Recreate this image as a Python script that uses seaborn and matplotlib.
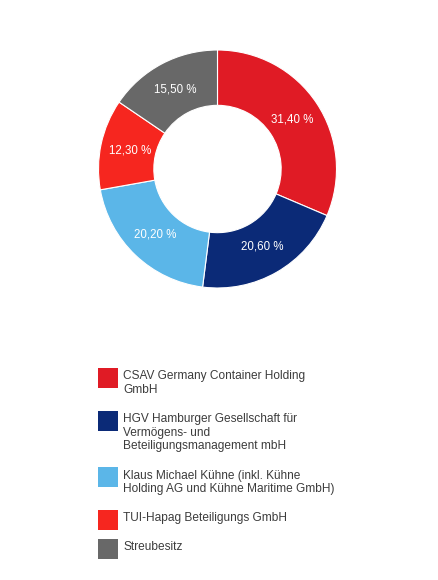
import matplotlib
matplotlib.use("Agg")
import matplotlib.pyplot as plt
import seaborn as sns

# Aktionärsstruktur (Anteile in %)
shareholders = [
    "CSAV Germany Container Holding\nGmbH",
    "HGV Hamburger Gesellschaft für\nVermögens- und\nBeteiligungsmanagement mbH",
    "Klaus Michael Kühne (inkl. Kühne\nHolding AG und Kühne Maritime GmbH)",
    "TUI-Hapag Beteiligungs GmbH",
    "Streubesitz",
]
shares = [31.40, 20.60, 20.20, 12.30, 15.50]
colors = ["#e01b25", "#0b2a77", "#5bb6e8", "#f6261f", "#686868"]

sns.set_theme(style="white")
plt.rcParams["font.family"] = ["Liberation Sans", "DejaVu Sans"]

W, H = 438, 580
fig = plt.figure(figsize=(W / 100, H / 100), dpi=100)
fig.patch.set_facecolor("white")

# Donut
cx, cy, r = 217.5, 169, 119
ax = fig.add_axes([(cx - r) / W, 1 - (cy + r) / H, 2 * r / W, 2 * r / H])
labels_pct = [f"{v:.2f}".replace(".", ",") + " %" for v in shares]
wedges, texts = ax.pie(
    shares, colors=colors, startangle=90, counterclock=False,
    radius=1.0, labels=labels_pct, labeldistance=0.755,
    wedgeprops=dict(width=0.465, edgecolor="white", linewidth=0.8),
    textprops=dict(color="white", fontsize=8.3, ha="center", va="center"),
)
ax.set_xlim(-1, 1)
ax.set_ylim(-1, 1)
ax.set_aspect("equal")
ax.axis("off")

# Legende (manuell, Kästchen oben bündig mit erster Zeile)
lx, ly = 98, 368
box = 20
line_h = 13.6
gap = 15.5
for name, col in zip(shareholders, colors):
    fig.patches.append(plt.Rectangle((lx / W, 1 - (ly + box) / H), box / W, box / H,
                                     transform=fig.transFigure, color=col, lw=0))
    fig.text((lx + box + 5) / W, 1 - (ly + 2.5) / H, name, fontsize=8.6,
             color="#3c3c3c", ha="left", va="top", linespacing=1.17)
    n = name.count("\n") + 1
    ly += n * line_h + gap

fig.savefig("out.png", dpi=100, facecolor="white")
